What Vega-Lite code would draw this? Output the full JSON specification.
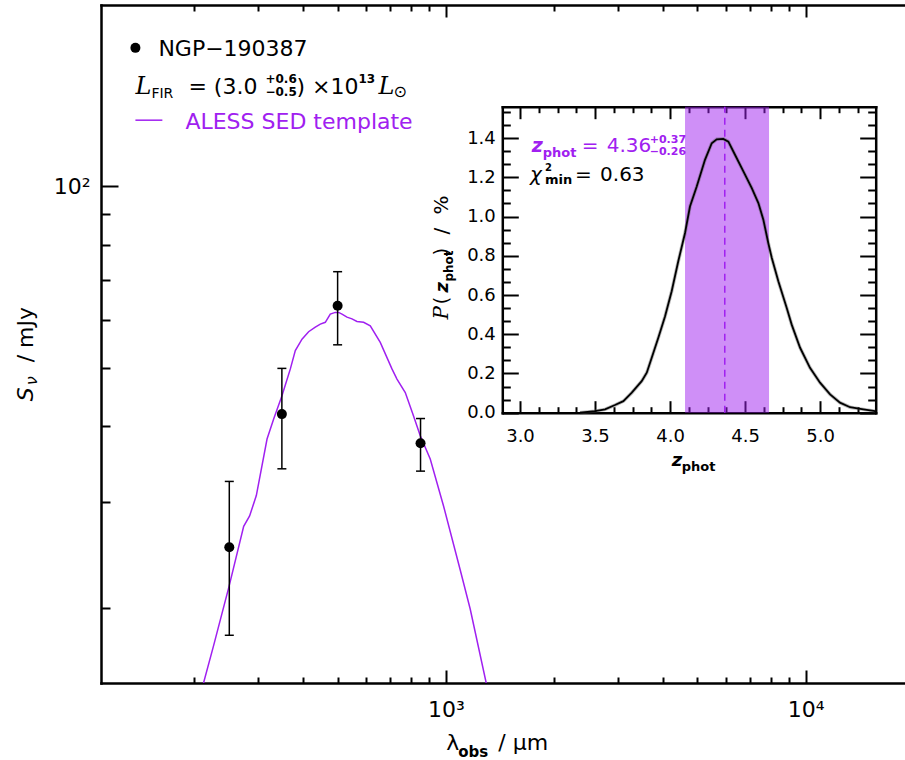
{
"$schema":"https://vega.github.io/schema/vega-lite/v6.json",
"width":804,"height":678,"autosize":"none",
"padding":{"left":101,"top":5,"right":0,"bottom":77},
"background":"white",
"config":{"view":{"stroke":null},"axis":{"grid":false,"domainColor":"black","domainWidth":2.5,"domainCap":"square","tickColor":"black","tickWidth":2,"labelColor":"black","labelFont":"DejaVu Sans","labelFontSize":22,"labelFlush":false,"labelOverlap":false,"zindex":1},"text":{"font":"DejaVu Sans","color":"black","align":"left","baseline":"alphabetic"}},
"datasets":{
"sed":[{"lam":212,"s":15.0},{"lam":226.1,"s":17.3},{"lam":249.6,"s":21.7},{"lam":274.1,"s":27.3},{"lam":284.7,"s":28.4},{"lam":297.2,"s":30.7},{"lam":318.3,"s":38.1},{"lam":331.9,"s":41.1},{"lam":350,"s":44.9},{"lam":369.5,"s":49.8},{"lam":381.4,"s":53.4},{"lam":398.1,"s":55.8},{"lam":415.3,"s":57.4},{"lam":433.5,"s":58.4},{"lam":447.6,"s":59.1},{"lam":462.1,"s":59.5},{"lam":477.1,"s":61.4},{"lam":492.7,"s":61.8},{"lam":503.2,"s":61.8},{"lam":514.2,"s":61.4},{"lam":530.9,"s":60.7},{"lam":548.1,"s":60.3},{"lam":565.9,"s":59.7},{"lam":590.4,"s":59.5},{"lam":616.2,"s":58.7},{"lam":656.9,"s":55.1},{"lam":707.9,"s":49.8},{"lam":731.0,"s":47.9},{"lam":770.9,"s":45.5},{"lam":812.8,"s":41.6},{"lam":848,"s":38.6},{"lam":904.4,"s":35.3},{"lam":984.8,"s":29.5},{"lam":1095.8,"s":23.1},{"lam":1168,"s":19.9},{"lam":1294,"s":15.0}],
"phot":[{"lam":250,"s":25.2,"lo":18.0,"hi":32.4},{"lam":350,"s":41.9,"lo":34.0,"hi":49.9},{"lam":500,"s":63.4,"lo":54.6,"hi":72.2},{"lam":850,"s":37.5,"lo":33.7,"hi":41.2}],
"pz":[{"z":3.4,"p":0.0},{"z":3.5,"p":0.008},{"z":3.567,"p":0.017},{"z":3.633,"p":0.039},{"z":3.689,"p":0.059},{"z":3.745,"p":0.102},{"z":3.811,"p":0.161},{"z":3.845,"p":0.204},{"z":3.878,"p":0.28},{"z":3.922,"p":0.382},{"z":3.967,"p":0.492},{"z":4.011,"p":0.619},{"z":4.055,"p":0.772},{"z":4.1,"p":0.916},{"z":4.133,"p":1.051},{"z":4.178,"p":1.153},{"z":4.233,"p":1.289},{"z":4.278,"p":1.374},{"z":4.311,"p":1.394},{"z":4.355,"p":1.396},{"z":4.389,"p":1.382},{"z":4.433,"p":1.315},{"z":4.489,"p":1.23},{"z":4.545,"p":1.145},{"z":4.589,"p":1.069},{"z":4.622,"p":0.984},{"z":4.655,"p":0.865},{"z":4.678,"p":0.79},{"z":4.722,"p":0.67},{"z":4.778,"p":0.534},{"z":4.811,"p":0.449},{"z":4.867,"p":0.331},{"z":4.933,"p":0.229},{"z":5.0,"p":0.153},{"z":5.067,"p":0.093},{"z":5.133,"p":0.051},{"z":5.2,"p":0.028},{"z":5.289,"p":0.017},{"z":5.367,"p":0.008}],
"one":[{}]
},
"resolve":{"scale":{"x":"independent","y":"independent"},"axis":{"x":"independent","y":"independent"}},
"layer":[
{"data":{"name":"one"},"mark":{"type":"rect","color":"#A020F0","opacity":0.5},
 "encoding":{"x":{"datum":4.10,"type":"quantitative","scale":{"domain":[2.882,5.371],"range":[401.3,774.7],"nice":false,"zero":false},"axis":{"orient":"bottom","offset":-270.3,"values":[3,3.5,4,4.5,5],"format":".1f","tickSize":-12,"labelPadding":27,"labelFontSize":18,"title":null}},"x2":{"datum":4.66},
 "y":{"datum":0,"type":"quantitative","scale":{"domain":[0,1.56],"range":[407.7,101.7],"nice":false,"zero":false},"axis":{"orient":"left","offset":-401.3,"values":[0,0.2,0.4,0.6,0.8,1.0,1.2,1.4],"format":".1f","tickSize":-16,"labelPadding":23,"labelFontSize":18,"title":null}},"y2":{"datum":1.56}}},
{"data":{"name":"one"},"mark":{"type":"rule","color":"#A020F0","strokeWidth":1.5,"strokeDash":[7,5]},
 "encoding":{"x":{"datum":4.365,"type":"quantitative","scale":{"domain":[2.882,5.371],"range":[401.3,774.7],"nice":false,"zero":false},"axis":{"orient":"bottom","offset":-270.3,"values":[3.125,3.25,3.375,3.625,3.75,3.875,4.125,4.25,4.375,4.625,4.75,4.875,5.125,5.25],"tickSize":-6,"labels":false,"domain":false,"title":null}},
 "y":{"datum":0,"type":"quantitative","scale":{"domain":[0,1.56],"range":[407.7,101.7],"nice":false,"zero":false},"axis":{"orient":"left","offset":-401.3,"values":[0.0667,0.1333,0.2667,0.3333,0.4667,0.5333,0.6667,0.7333,0.8667,0.9333,1.0667,1.1333,1.2667,1.3333,1.4667,1.5333],"tickSize":-8,"labels":false,"domain":false,"title":null}},"y2":{"datum":1.56}}},
{"data":{"name":"pz"},"mark":{"type":"line","color":"#555555","strokeWidth":3.5,"opacity":0.4},
 "encoding":{"x":{"field":"z","type":"quantitative","scale":{"domain":[2.882,5.371],"range":[401.3,774.7],"nice":false,"zero":false},"axis":{"orient":"top","offset":-101.7,"values":[3,3.5,4,4.5,5],"tickSize":-12,"labels":false,"title":null}},
 "y":{"field":"p","type":"quantitative","scale":{"domain":[0,1.56],"range":[407.7,101.7],"nice":false,"zero":false},"axis":{"orient":"right","offset":-29.3,"values":[0,0.2,0.4,0.6,0.8,1.0,1.2,1.4],"tickSize":-16,"labels":false,"title":null}}}},
{"data":{"name":"pz"},"mark":{"type":"line","color":"black","strokeWidth":1.8},
 "encoding":{"x":{"field":"z","type":"quantitative","scale":{"domain":[2.882,5.371],"range":[401.3,774.7],"nice":false,"zero":false},"axis":{"orient":"top","offset":-101.7,"values":[3.125,3.25,3.375,3.625,3.75,3.875,4.125,4.25,4.375,4.625,4.75,4.875,5.125,5.25],"tickSize":-6,"labels":false,"domain":false,"title":null}},
 "y":{"field":"p","type":"quantitative","scale":{"domain":[0,1.56],"range":[407.7,101.7],"nice":false,"zero":false},"axis":{"orient":"right","offset":-29.3,"values":[0.0667,0.1333,0.2667,0.3333,0.4667,0.5333,0.6667,0.7333,0.8667,0.9333,1.0667,1.1333,1.2667,1.3333,1.4667,1.5333],"tickSize":-8,"labels":false,"domain":false,"title":null}}}},
{"data":{"name":"sed"},"mark":{"type":"line","color":"#A020F0","strokeWidth":1.5,"clip":true},
 "encoding":{"x":{"field":"lam","type":"quantitative","scale":{"type":"log","domain":[110,18870],"nice":false},"axis":{"orient":"bottom","values":[1000,10000],"tickSize":-13,"labelPadding":29,"labelExpr":"datum.value == 1000 ? '10³' : '10⁴'","title":null}},
 "y":{"field":"s","type":"quantitative","scale":{"type":"log","domain":[15,200],"nice":false},"axis":{"orient":"left","values":[100],"tickSize":-17,"labelPadding":28,"labelExpr":"'10²'","title":null}}}},
{"data":{"name":"phot"},"mark":{"type":"rule","color":"black","strokeWidth":1.5},
 "encoding":{"x":{"field":"lam","type":"quantitative","scale":{"type":"log","domain":[110,18870],"nice":false},"axis":{"orient":"bottom","values":[200,300,400,500,600,700,800,900,2000,3000,4000,5000,6000,7000,8000,9000],"tickSize":-6,"labels":false,"domain":false,"title":null}},
 "y":{"field":"lo","type":"quantitative","scale":{"type":"log","domain":[15,200],"nice":false},"axis":{"orient":"left","values":[20,30,40,50,60,70,80,90],"tickSize":-9,"labels":false,"domain":false,"title":null}},"y2":{"field":"hi"}}},
{"data":{"name":"phot"},"mark":{"type":"tick","orient":"horizontal","size":9,"thickness":1.5,"color":"black","opacity":1},
 "encoding":{"x":{"field":"lam","type":"quantitative","scale":{"type":"log","domain":[110,18870],"nice":false},"axis":{"orient":"top","values":[1000,10000],"tickSize":-12,"labels":false,"title":null}},
 "y":{"field":"lo","type":"quantitative","scale":{"type":"log","domain":[15,200],"nice":false},"axis":null}}},
{"data":{"name":"phot"},"mark":{"type":"tick","orient":"horizontal","size":9,"thickness":1.5,"color":"black","opacity":1},
 "encoding":{"x":{"field":"lam","type":"quantitative","scale":{"type":"log","domain":[110,18870],"nice":false},"axis":{"orient":"top","values":[200,300,400,500,600,700,800,900,2000,3000,4000,5000,6000,7000,8000,9000],"tickSize":-6,"labels":false,"domain":false,"title":null}},
 "y":{"field":"hi","type":"quantitative","scale":{"type":"log","domain":[15,200],"nice":false},"axis":null}}},
{"data":{"name":"phot"},"mark":{"type":"circle","size":100,"color":"black","opacity":1},
 "encoding":{"x":{"field":"lam","type":"quantitative","scale":{"type":"log","domain":[110,18870],"nice":false},"axis":null},
 "y":{"field":"s","type":"quantitative","scale":{"type":"log","domain":[15,200],"nice":false},"axis":null}}},
{"data":{"name":"one"},"mark":{"type":"circle","size":100,"color":"black","opacity":1},
 "encoding":{"x":{"datum":137.1,"type":"quantitative","scale":{"type":"log","domain":[110,18870],"nice":false},"axis":null},"y":{"datum":169.8,"type":"quantitative","scale":{"type":"log","domain":[15,200],"nice":false},"axis":null}}},
{"data":{"name":"one"},"mark":{"type":"text","text":"NGP−190387","fontSize":22,"dx":23},
 "encoding":{"x":{"datum":137.1,"type":"quantitative","scale":{"type":"log","domain":[110,18870],"nice":false},"axis":null},"y":{"datum":164.3,"type":"quantitative","scale":{"type":"log","domain":[15,200],"nice":false},"axis":null}}},
{"data":{"name":"one"},"mark":{"type":"text","text":"L","font":"DejaVu Serif","fontStyle":"italic","fontSize":24,"dx":0},
 "encoding":{"x":{"datum":137.1,"type":"quantitative","scale":{"type":"log","domain":[110,18870],"nice":false},"axis":null},"y":{"datum":142.1,"type":"quantitative","scale":{"type":"log","domain":[15,200],"nice":false},"axis":null}}},
{"data":{"name":"one"},"mark":{"type":"text","text":"FIR","fontSize":14,"dx":16,"dy":4},
 "encoding":{"x":{"datum":137.1,"type":"quantitative","scale":{"type":"log","domain":[110,18870],"nice":false},"axis":null},"y":{"datum":142.1,"type":"quantitative","scale":{"type":"log","domain":[15,200],"nice":false},"axis":null}}},
{"data":{"name":"one"},"mark":{"type":"text","text":"=  (3.0","fontSize":22,"dx":53},
 "encoding":{"x":{"datum":137.1,"type":"quantitative","scale":{"type":"log","domain":[110,18870],"nice":false},"axis":null},"y":{"datum":142.1,"type":"quantitative","scale":{"type":"log","domain":[15,200],"nice":false},"axis":null}}},
{"data":{"name":"one"},"mark":{"type":"text","text":"+0.6","fontSize":12,"fontWeight":"bold","dx":130,"dy":-11},
 "encoding":{"x":{"datum":137.1,"type":"quantitative","scale":{"type":"log","domain":[110,18870],"nice":false},"axis":null},"y":{"datum":142.1,"type":"quantitative","scale":{"type":"log","domain":[15,200],"nice":false},"axis":null}}},
{"data":{"name":"one"},"mark":{"type":"text","text":"−0.5","fontSize":12,"fontWeight":"bold","dx":130,"dy":2},
 "encoding":{"x":{"datum":137.1,"type":"quantitative","scale":{"type":"log","domain":[110,18870],"nice":false},"axis":null},"y":{"datum":142.1,"type":"quantitative","scale":{"type":"log","domain":[15,200],"nice":false},"axis":null}}},
{"data":{"name":"one"},"mark":{"type":"text","text":") ×10","fontSize":22,"dx":161},
 "encoding":{"x":{"datum":137.1,"type":"quantitative","scale":{"type":"log","domain":[110,18870],"nice":false},"axis":null},"y":{"datum":142.1,"type":"quantitative","scale":{"type":"log","domain":[15,200],"nice":false},"axis":null}}},
{"data":{"name":"one"},"mark":{"type":"text","text":"13","fontSize":12,"fontWeight":"bold","dx":223,"dy":-11},
 "encoding":{"x":{"datum":137.1,"type":"quantitative","scale":{"type":"log","domain":[110,18870],"nice":false},"axis":null},"y":{"datum":142.1,"type":"quantitative","scale":{"type":"log","domain":[15,200],"nice":false},"axis":null}}},
{"data":{"name":"one"},"mark":{"type":"text","text":"L","font":"DejaVu Serif","fontStyle":"italic","fontSize":24,"dx":243},
 "encoding":{"x":{"datum":137.1,"type":"quantitative","scale":{"type":"log","domain":[110,18870],"nice":false},"axis":null},"y":{"datum":142.1,"type":"quantitative","scale":{"type":"log","domain":[15,200],"nice":false},"axis":null}}},
{"data":{"name":"one"},"mark":{"type":"text","text":"⊙","fontSize":16,"dx":258,"dy":3},
 "encoding":{"x":{"datum":137.1,"type":"quantitative","scale":{"type":"log","domain":[110,18870],"nice":false},"axis":null},"y":{"datum":142.1,"type":"quantitative","scale":{"type":"log","domain":[15,200],"nice":false},"axis":null}}},
{"data":{"name":"one"},"mark":{"type":"rule","color":"#A020F0","strokeWidth":1.5},
 "encoding":{"x":{"datum":137.1,"type":"quantitative","scale":{"type":"log","domain":[110,18870],"nice":false},"axis":null},"x2":{"datum":162.9},"y":{"datum":128.8,"type":"quantitative","scale":{"type":"log","domain":[15,200],"nice":false},"axis":null}}},
{"data":{"name":"one"},"mark":{"type":"text","text":"ALESS SED template","fontSize":22,"color":"#A020F0","dx":50},
 "encoding":{"x":{"datum":137.1,"type":"quantitative","scale":{"type":"log","domain":[110,18870],"nice":false},"axis":null},"y":{"datum":124.3,"type":"quantitative","scale":{"type":"log","domain":[15,200],"nice":false},"axis":null}}},
{"data":{"name":"one"},"mark":{"type":"text","text":"λ","fontSize":22,"dx":0},
 "encoding":{"x":{"datum":1002,"type":"quantitative","scale":{"type":"log","domain":[110,18870],"nice":false},"axis":null},"y":{"datum":11.63,"type":"quantitative","scale":{"type":"log","domain":[15,200],"nice":false},"axis":null}}},
{"data":{"name":"one"},"mark":{"type":"text","text":"obs","fontSize":15,"fontWeight":"bold","dx":12,"dy":7},
 "encoding":{"x":{"datum":1002,"type":"quantitative","scale":{"type":"log","domain":[110,18870],"nice":false},"axis":null},"y":{"datum":11.63,"type":"quantitative","scale":{"type":"log","domain":[15,200],"nice":false},"axis":null}}},
{"data":{"name":"one"},"mark":{"type":"text","text":"/   μm","fontSize":22,"dx":52},
 "encoding":{"x":{"datum":1002,"type":"quantitative","scale":{"type":"log","domain":[110,18870],"nice":false},"axis":null},"y":{"datum":11.63,"type":"quantitative","scale":{"type":"log","domain":[15,200],"nice":false},"axis":null}}},
{"data":{"name":"one"},"mark":{"type":"text","text":"S","fontSize":22,"fontStyle":"italic","angle":270,"dx":0},
 "encoding":{"x":{"datum":71.4,"type":"quantitative","scale":{"type":"log","domain":[110,18870],"nice":false},"axis":null},"y":{"datum":44.0,"type":"quantitative","scale":{"type":"log","domain":[15,200],"nice":false},"axis":null}}},
{"data":{"name":"one"},"mark":{"type":"text","text":"ν","fontSize":16,"fontStyle":"italic","angle":270,"dx":16,"dy":4},
 "encoding":{"x":{"datum":71.4,"type":"quantitative","scale":{"type":"log","domain":[110,18870],"nice":false},"axis":null},"y":{"datum":44.0,"type":"quantitative","scale":{"type":"log","domain":[15,200],"nice":false},"axis":null}}},
{"data":{"name":"one"},"mark":{"type":"text","text":"/   mJy","fontSize":22,"angle":270,"dx":39},
 "encoding":{"x":{"datum":71.4,"type":"quantitative","scale":{"type":"log","domain":[110,18870],"nice":false},"axis":null},"y":{"datum":44.0,"type":"quantitative","scale":{"type":"log","domain":[15,200],"nice":false},"axis":null}}},
{"data":{"name":"one"},"mark":{"type":"text","text":"z","fontSize":19,"fontWeight":"bold","fontStyle":"italic","color":"#A020F0","dx":0},
 "encoding":{"x":{"datum":3.078,"type":"quantitative","scale":{"domain":[2.882,5.371],"range":[401.3,774.7],"nice":false,"zero":false},"axis":null},"y":{"datum":1.331,"type":"quantitative","scale":{"domain":[0,1.56],"range":[407.7,101.7],"nice":false,"zero":false},"axis":null}}},
{"data":{"name":"one"},"mark":{"type":"text","text":"phot","fontSize":13,"fontWeight":"bold","color":"#A020F0","dx":11,"dy":5},
 "encoding":{"x":{"datum":3.078,"type":"quantitative","scale":{"domain":[2.882,5.371],"range":[401.3,774.7],"nice":false,"zero":false},"axis":null},"y":{"datum":1.331,"type":"quantitative","scale":{"domain":[0,1.56],"range":[407.7,101.7],"nice":false,"zero":false},"axis":null}}},
{"data":{"name":"one"},"mark":{"type":"text","text":"=","fontSize":20,"color":"#A020F0","dx":50},
 "encoding":{"x":{"datum":3.078,"type":"quantitative","scale":{"domain":[2.882,5.371],"range":[401.3,774.7],"nice":false,"zero":false},"axis":null},"y":{"datum":1.331,"type":"quantitative","scale":{"domain":[0,1.56],"range":[407.7,101.7],"nice":false,"zero":false},"axis":null}}},
{"data":{"name":"one"},"mark":{"type":"text","text":"4.36","fontSize":20,"color":"#A020F0","dx":75},
 "encoding":{"x":{"datum":3.078,"type":"quantitative","scale":{"domain":[2.882,5.371],"range":[401.3,774.7],"nice":false,"zero":false},"axis":null},"y":{"datum":1.331,"type":"quantitative","scale":{"domain":[0,1.56],"range":[407.7,101.7],"nice":false,"zero":false},"axis":null}}},
{"data":{"name":"one"},"mark":{"type":"text","text":"+0.37","fontSize":11,"fontWeight":"bold","color":"#A020F0","dx":118,"dy":-9},
 "encoding":{"x":{"datum":3.078,"type":"quantitative","scale":{"domain":[2.882,5.371],"range":[401.3,774.7],"nice":false,"zero":false},"axis":null},"y":{"datum":1.331,"type":"quantitative","scale":{"domain":[0,1.56],"range":[407.7,101.7],"nice":false,"zero":false},"axis":null}}},
{"data":{"name":"one"},"mark":{"type":"text","text":"−0.26","fontSize":11,"fontWeight":"bold","color":"#A020F0","dx":118,"dy":3},
 "encoding":{"x":{"datum":3.078,"type":"quantitative","scale":{"domain":[2.882,5.371],"range":[401.3,774.7],"nice":false,"zero":false},"axis":null},"y":{"datum":1.331,"type":"quantitative","scale":{"domain":[0,1.56],"range":[407.7,101.7],"nice":false,"zero":false},"axis":null}}},
{"data":{"name":"one"},"mark":{"type":"text","text":"χ","fontSize":20,"fontStyle":"italic","dx":0},
 "encoding":{"x":{"datum":3.067,"type":"quantitative","scale":{"domain":[2.882,5.371],"range":[401.3,774.7],"nice":false,"zero":false},"axis":null},"y":{"datum":1.179,"type":"quantitative","scale":{"domain":[0,1.56],"range":[407.7,101.7],"nice":false,"zero":false},"axis":null}}},
{"data":{"name":"one"},"mark":{"type":"text","text":"2","fontSize":10,"fontWeight":"bold","dx":15,"dy":-10},
 "encoding":{"x":{"datum":3.067,"type":"quantitative","scale":{"domain":[2.882,5.371],"range":[401.3,774.7],"nice":false,"zero":false},"axis":null},"y":{"datum":1.179,"type":"quantitative","scale":{"domain":[0,1.56],"range":[407.7,101.7],"nice":false,"zero":false},"axis":null}}},
{"data":{"name":"one"},"mark":{"type":"text","text":"min","fontSize":13,"fontWeight":"bold","dx":15,"dy":3},
 "encoding":{"x":{"datum":3.067,"type":"quantitative","scale":{"domain":[2.882,5.371],"range":[401.3,774.7],"nice":false,"zero":false},"axis":null},"y":{"datum":1.179,"type":"quantitative","scale":{"domain":[0,1.56],"range":[407.7,101.7],"nice":false,"zero":false},"axis":null}}},
{"data":{"name":"one"},"mark":{"type":"text","text":"=","fontSize":20,"dx":45},
 "encoding":{"x":{"datum":3.067,"type":"quantitative","scale":{"domain":[2.882,5.371],"range":[401.3,774.7],"nice":false,"zero":false},"axis":null},"y":{"datum":1.179,"type":"quantitative","scale":{"domain":[0,1.56],"range":[407.7,101.7],"nice":false,"zero":false},"axis":null}}},
{"data":{"name":"one"},"mark":{"type":"text","text":"0.63","fontSize":20,"dx":70},
 "encoding":{"x":{"datum":3.067,"type":"quantitative","scale":{"domain":[2.882,5.371],"range":[401.3,774.7],"nice":false,"zero":false},"axis":null},"y":{"datum":1.179,"type":"quantitative","scale":{"domain":[0,1.56],"range":[407.7,101.7],"nice":false,"zero":false},"axis":null}}},
{"data":{"name":"one"},"mark":{"type":"text","text":"z","fontSize":18,"fontWeight":"bold","fontStyle":"italic","dx":0},
 "encoding":{"x":{"datum":4.011,"type":"quantitative","scale":{"domain":[2.882,5.371],"range":[401.3,774.7],"nice":false,"zero":false},"axis":null},"y":{"datum":-0.273,"type":"quantitative","scale":{"domain":[0,1.56],"range":[407.7,101.7],"nice":false,"zero":false},"axis":null}}},
{"data":{"name":"one"},"mark":{"type":"text","text":"phot","fontSize":13,"fontWeight":"bold","dx":10,"dy":5},
 "encoding":{"x":{"datum":4.011,"type":"quantitative","scale":{"domain":[2.882,5.371],"range":[401.3,774.7],"nice":false,"zero":false},"axis":null},"y":{"datum":-0.273,"type":"quantitative","scale":{"domain":[0,1.56],"range":[407.7,101.7],"nice":false,"zero":false},"axis":null}}},
{"data":{"name":"one"},"mark":{"type":"text","text":"P","font":"DejaVu Serif","fontStyle":"italic","fontSize":20,"angle":270,"dx":0},
 "encoding":{"x":{"datum":2.52,"type":"quantitative","scale":{"domain":[2.882,5.371],"range":[401.3,774.7],"nice":false,"zero":false},"axis":null},"y":{"datum":0.475,"type":"quantitative","scale":{"domain":[0,1.56],"range":[407.7,101.7],"nice":false,"zero":false},"axis":null}}},
{"data":{"name":"one"},"mark":{"type":"text","text":"(","fontSize":20,"angle":270,"dx":15},
 "encoding":{"x":{"datum":2.52,"type":"quantitative","scale":{"domain":[2.882,5.371],"range":[401.3,774.7],"nice":false,"zero":false},"axis":null},"y":{"datum":0.475,"type":"quantitative","scale":{"domain":[0,1.56],"range":[407.7,101.7],"nice":false,"zero":false},"axis":null}}},
{"data":{"name":"one"},"mark":{"type":"text","text":"z","fontSize":18,"fontWeight":"bold","fontStyle":"italic","angle":270,"dx":27},
 "encoding":{"x":{"datum":2.52,"type":"quantitative","scale":{"domain":[2.882,5.371],"range":[401.3,774.7],"nice":false,"zero":false},"axis":null},"y":{"datum":0.475,"type":"quantitative","scale":{"domain":[0,1.56],"range":[407.7,101.7],"nice":false,"zero":false},"axis":null}}},
{"data":{"name":"one"},"mark":{"type":"text","text":"phot","fontSize":12,"fontWeight":"bold","angle":270,"dx":38,"dy":5},
 "encoding":{"x":{"datum":2.52,"type":"quantitative","scale":{"domain":[2.882,5.371],"range":[401.3,774.7],"nice":false,"zero":false},"axis":null},"y":{"datum":0.475,"type":"quantitative","scale":{"domain":[0,1.56],"range":[407.7,101.7],"nice":false,"zero":false},"axis":null}}},
{"data":{"name":"one"},"mark":{"type":"text","text":")","fontSize":20,"angle":270,"dx":64},
 "encoding":{"x":{"datum":2.52,"type":"quantitative","scale":{"domain":[2.882,5.371],"range":[401.3,774.7],"nice":false,"zero":false},"axis":null},"y":{"datum":0.475,"type":"quantitative","scale":{"domain":[0,1.56],"range":[407.7,101.7],"nice":false,"zero":false},"axis":null}}},
{"data":{"name":"one"},"mark":{"type":"text","text":"/","fontSize":20,"angle":270,"dx":85},
 "encoding":{"x":{"datum":2.52,"type":"quantitative","scale":{"domain":[2.882,5.371],"range":[401.3,774.7],"nice":false,"zero":false},"axis":null},"y":{"datum":0.475,"type":"quantitative","scale":{"domain":[0,1.56],"range":[407.7,101.7],"nice":false,"zero":false},"axis":null}}},
{"data":{"name":"one"},"mark":{"type":"text","text":"%","fontSize":20,"angle":270,"dx":105},
 "encoding":{"x":{"datum":2.52,"type":"quantitative","scale":{"domain":[2.882,5.371],"range":[401.3,774.7],"nice":false,"zero":false},"axis":null},"y":{"datum":0.475,"type":"quantitative","scale":{"domain":[0,1.56],"range":[407.7,101.7],"nice":false,"zero":false},"axis":null}}}
]
}
